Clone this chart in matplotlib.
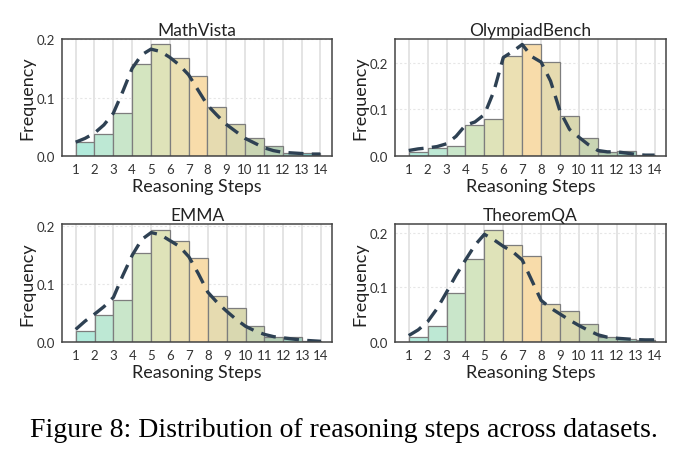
import matplotlib.pyplot as plt
import numpy as np

plt.rcParams['font.family'] = ['Lato', 'DejaVu Sans']

steps = np.arange(1, 15)
titles = ["MathVista", "OlympiadBench", "EMMA", "TheoremQA"]

# bar heights for steps 1..13 (bar i covers [i, i+1])
mathvista = [0.0234, 0.0375, 0.0730, 0.157, 0.191, 0.167, 0.137, 0.084, 0.055, 0.031, 0.0175, 0.0055, 0.0046]
olympiad = [0.0093, 0.0165, 0.0215, 0.066, 0.0796, 0.215, 0.240, 0.203, 0.086, 0.0387, 0.0085, 0.0108, 0.002]
emma = [0.0187, 0.046, 0.073, 0.154, 0.194, 0.175, 0.145, 0.0795, 0.058, 0.027, 0.0085, 0.0076, 0.0012]
theoremqa = [0.0092, 0.030, 0.090, 0.151, 0.2055, 0.178, 0.158, 0.0685, 0.0557, 0.0324, 0.0086, 0.0055, 0.0043]

# dashed trend curve, read at half steps from 1 to 14
curve_x = np.arange(1, 14.01, 0.5)
mathvista_curve = [0.0234, 0.030, 0.039, 0.053, 0.073, 0.110, 0.150, 0.173, 0.183, 0.179, 0.169, 0.156, 0.139,
                   0.113, 0.087, 0.070, 0.054, 0.042, 0.030, 0.022, 0.014, 0.009, 0.006, 0.005, 0.004, 0.003, 0.003]
olympiad_curve = [0.0115, 0.015, 0.017, 0.020, 0.026, 0.042, 0.066, 0.073, 0.089, 0.139, 0.212, 0.225, 0.240,
                  0.214, 0.202, 0.161, 0.096, 0.057, 0.040, 0.024, 0.0115, 0.0086, 0.0086, 0.006, 0.003, 0.0015, 0.0015]
emma_curve = [0.0216, 0.036, 0.048, 0.061, 0.077, 0.115, 0.150, 0.177, 0.189, 0.185, 0.175, 0.165, 0.147,
              0.118, 0.086, 0.068, 0.053, 0.039, 0.027, 0.019, 0.013, 0.009, 0.007, 0.005, 0.003, 0.002, 0.001]
theoremqa_curve = [0.0116, 0.022, 0.037, 0.061, 0.091, 0.122, 0.150, 0.177, 0.197, 0.187, 0.175, 0.165, 0.150,
                   0.113, 0.076, 0.062, 0.051, 0.040, 0.030, 0.021, 0.013, 0.0086, 0.0067, 0.0055, 0.0043, 0.0037, 0.0037]

bars = [mathvista, olympiad, emma, theoremqa]
curves = [mathvista_curve, olympiad_curve, emma_curve, theoremqa_curve]

bar_colors = ['#b2eadb', '#bde8d4', '#c9e6ca', '#d4e5c0', '#dfe3b9', '#ebe0b3', '#f8dcaa',
              '#e6dbb0', '#d9d8b0', '#c9d5b3', '#b5cfb5', '#9fcbbb', '#80c8c6']

fig = plt.figure(figsize=(6.88, 4.64), dpi=100)
rects = [[0.090, 0.662, 0.392, 0.252],
         [0.574, 0.662, 0.394, 0.252],
         [0.090, 0.261, 0.393, 0.254],
         [0.574, 0.261, 0.394, 0.254]]

for rect, title, vals, cv in zip(rects, titles, bars, curves):
    ax = fig.add_axes(rect)
    ax.set_axisbelow(True)
    ax.grid(axis='x', color='#e2e2e2', linewidth=1.3, linestyle='-')
    ax.grid(axis='y', color='#e6e6e6', linewidth=0.8, linestyle=(0, (2, 2)))
    ax.bar(steps[:-1], vals, width=1, align='edge', color=bar_colors,
           edgecolor='#7d7d7d', linewidth=0.9)
    ax.plot(curve_x, cv, color='#2e4153', linewidth=2.4, linestyle=(0, (4.5, 2.5)))
    ax.set_xlim(0.27, 14.6)
    ax.set_ylim(0, max(vals) * 1.05)
    ax.set_xticks(steps)
    ax.set_yticks([0.0, 0.1, 0.2])
    ax.set_yticklabels(['0.0', '0.1', '0.2'])
    ax.tick_params(length=0, labelsize=9.5, colors='#333333', pad=5)
    for s in ax.spines.values():
        s.set_color('#444444')
        s.set_linewidth(1.1)
    ax.set_title(title, fontsize=12.5, color='#222222', pad=3)
    ax.set_xlabel("Reasoning Steps", fontsize=13, color='#222222', labelpad=2)
    ax.set_ylabel("Frequency", fontsize=13, color='#222222', labelpad=1)

fig.text(0.5, 0.073, "Figure 8: Distribution of reasoning steps across datasets.",
         ha='center', va='center', fontsize=20, family='Liberation Serif', color='black')

fig.savefig("out.png", dpi=100)
